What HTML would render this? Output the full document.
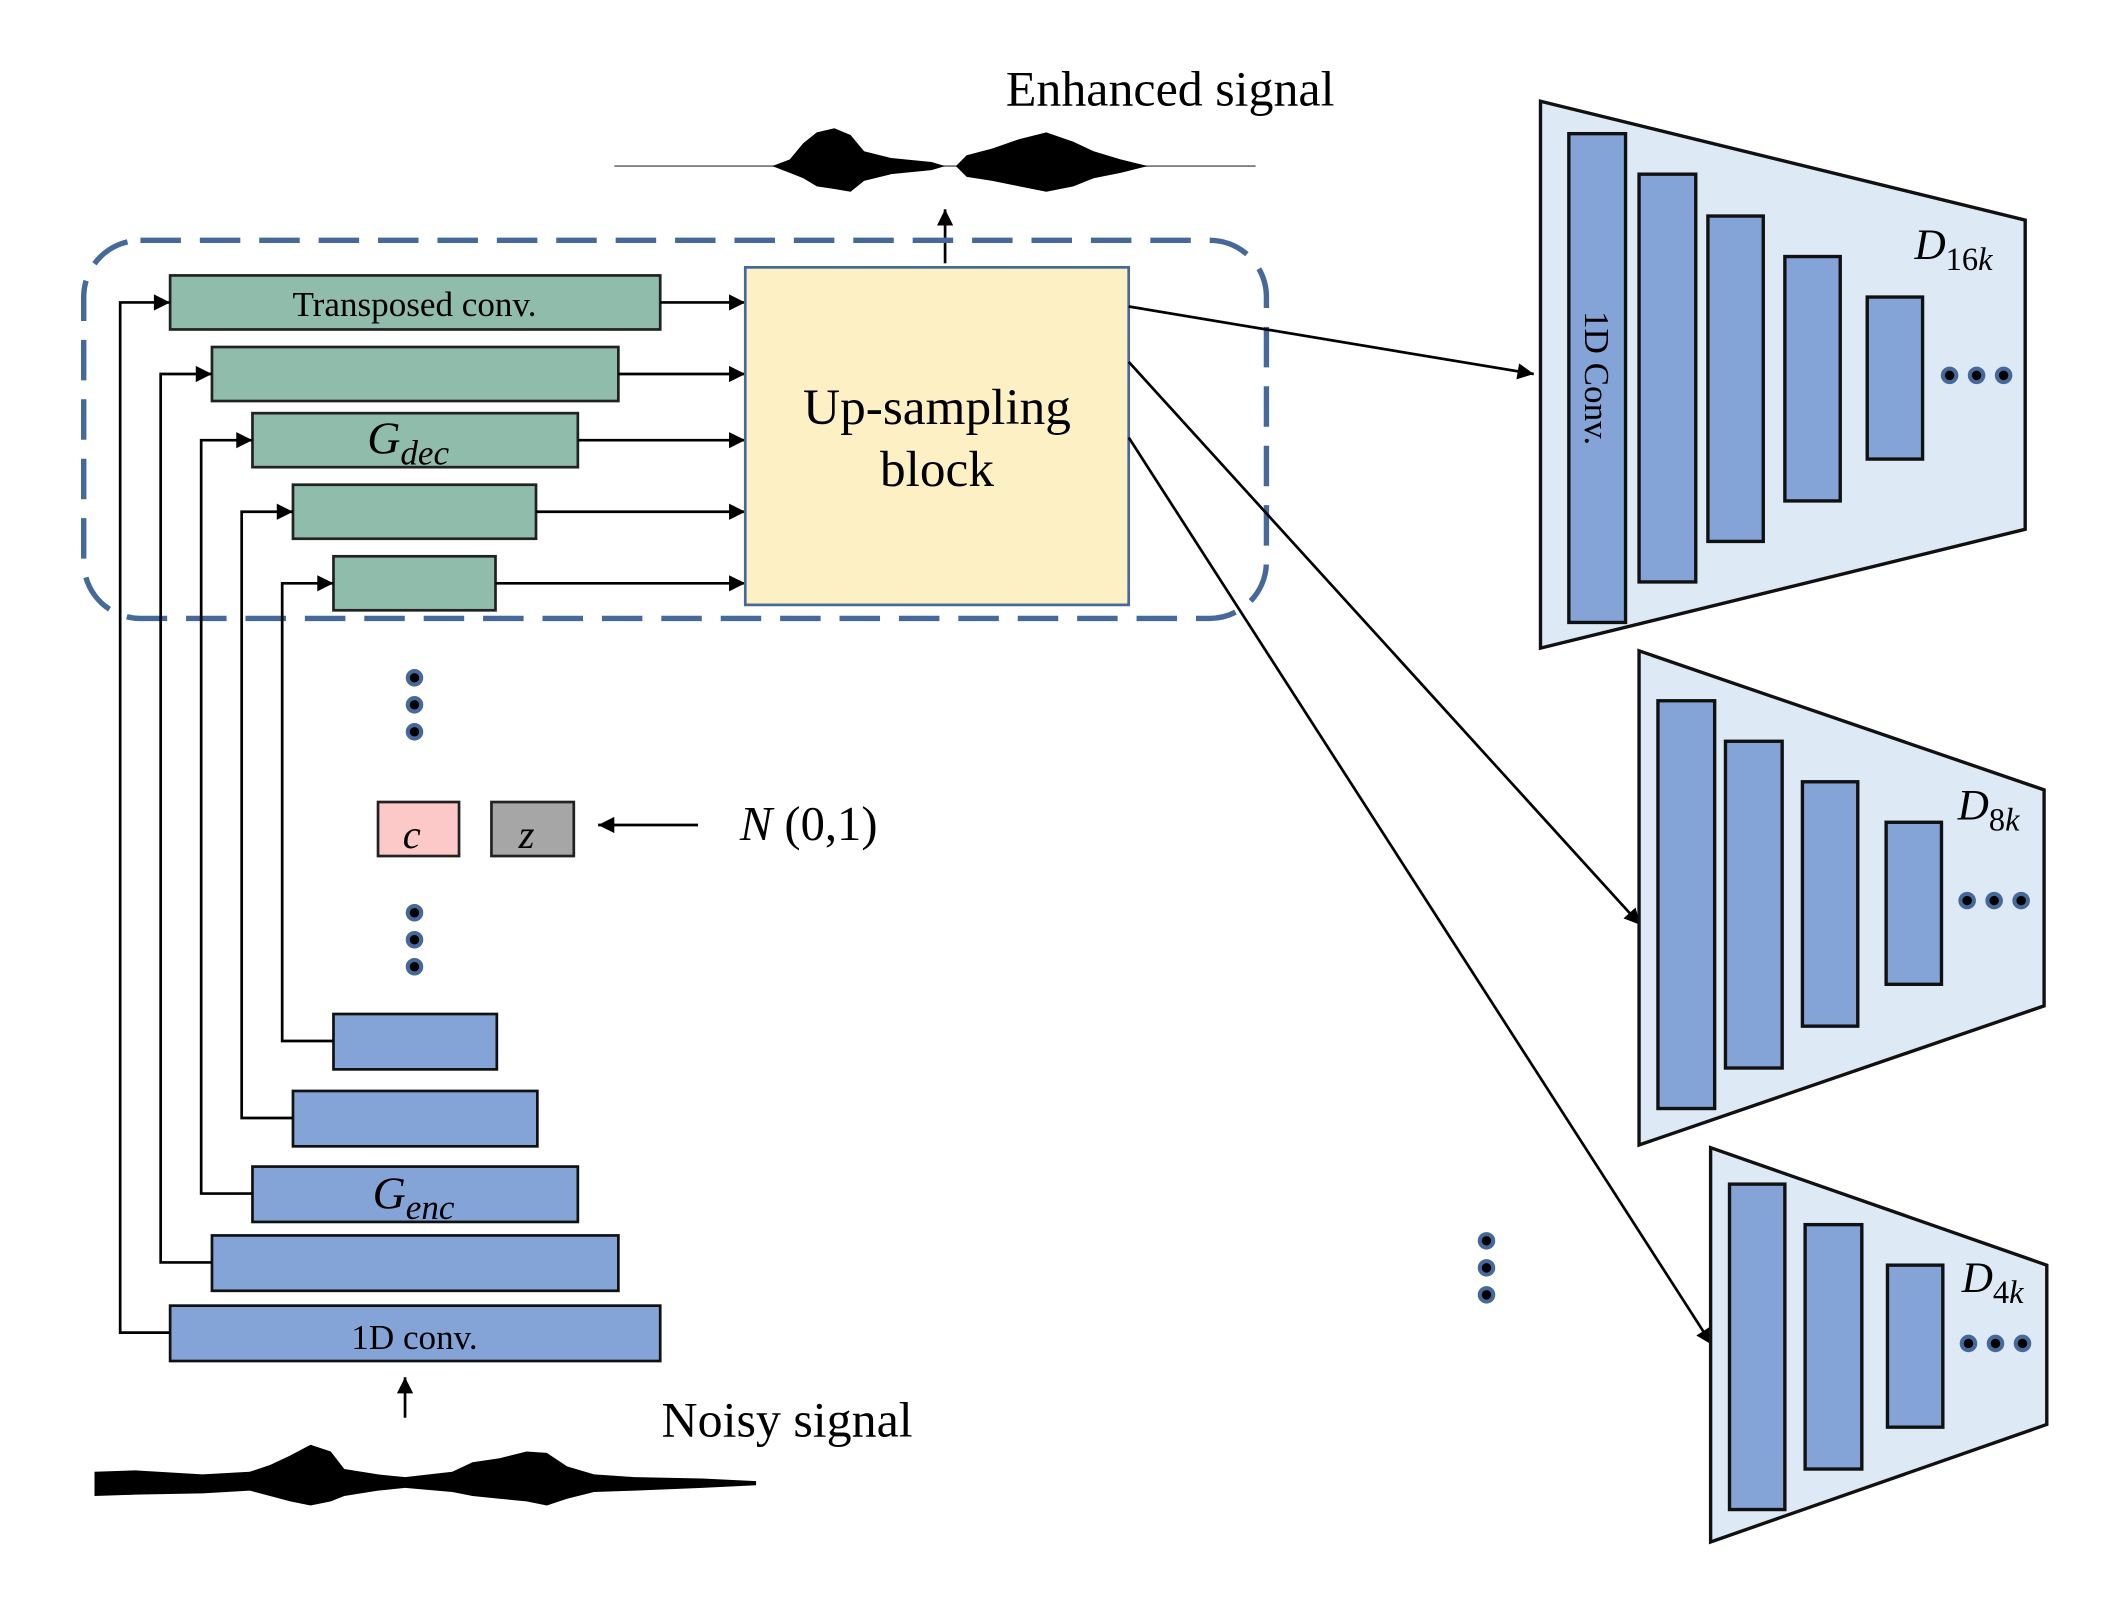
<!DOCTYPE html>
<html><head><meta charset="utf-8"><style>html,body{margin:0;padding:0;background:#fff}svg{display:block}</style></head><body>
<svg width="2117" height="1600" viewBox="0 0 1568 1185" preserveAspectRatio="none" xmlns="http://www.w3.org/2000/svg" font-family="'Liberation Serif', serif">
<defs>
<marker id="b" viewBox="0 0 10 10" refX="10" refY="5" markerWidth="14" markerHeight="12" orient="auto" markerUnits="userSpaceOnUse"><path d="M0,0 L10,5 L0,10 z" fill="#000"/></marker>
</defs>
<text x="745" y="78" font-size="37">Enhanced signal</text>
<line x1="455" y1="123" x2="930" y2="123" stroke="#555" stroke-width="1"/>
<path d="M572,123 L585,118 L595,106 L605,98 L618,95 L630,100 L640,112 L660,117 L690,120 L700,123 L690,126 L660,129 L640,134 L630,142 L618,140 L605,138 L595,132 L585,128 Z M708,123 L716,115 L735,110 L755,103 L775,98 L795,105 L810,112 L830,118 L850,123 L830,128 L810,132 L795,138 L775,142 L755,138 L735,134 L716,131 Z" fill="#000"/>
<line x1="700" y1="195" x2="700" y2="155" stroke="#000" stroke-width="2" marker-end="url(#b)"/>
<rect x="62" y="178" width="876" height="280" rx="42" fill="none" stroke="#44699a" stroke-width="4" stroke-dasharray="30,14"/>
<g fill="#8fbcab" stroke="#222" stroke-width="2">
<rect x="126" y="204" width="363" height="40"/>
<rect x="157" y="257" width="301" height="40"/>
<rect x="187" y="306" width="241" height="40"/>
<rect x="217" y="359" width="180" height="40"/>
<rect x="247" y="412" width="120" height="40"/>
</g>
<text x="307" y="234" font-size="26" text-anchor="middle">Transposed conv.</text>
<text x="272" y="336" font-size="34" font-style="italic">G<tspan font-size="26" dy="8">dec</tspan></text>
<g stroke="#000" stroke-width="2" marker-end="url(#b)">
<line x1="489" y1="224" x2="552" y2="224"/>
<line x1="458" y1="277" x2="552" y2="277"/>
<line x1="428" y1="326" x2="552" y2="326"/>
<line x1="397" y1="379" x2="552" y2="379"/>
<line x1="367" y1="432" x2="552" y2="432"/>
</g>
<rect x="552" y="198" width="284" height="250" fill="#fdf0c4" stroke="#44699a" stroke-width="2"/>
<text x="694" y="314" font-size="38" text-anchor="middle">Up-sampling</text>
<text x="694" y="360" font-size="38" text-anchor="middle">block</text>
<g fill="#84a4d8" stroke="#111" stroke-width="2">
<rect x="247" y="751" width="121" height="41"/>
<rect x="217" y="808" width="181" height="41"/>
<rect x="187" y="864" width="241" height="41"/>
<rect x="157" y="915" width="301" height="41"/>
<rect x="126" y="967" width="363" height="41"/>
</g>
<text x="307" y="999" font-size="26" text-anchor="middle">1D conv.</text>
<text x="276" y="895" font-size="34" font-style="italic">G<tspan font-size="26" dy="8">enc</tspan></text>
<g fill="none" stroke="#000" stroke-width="2" marker-end="url(#b)">
<polyline points="126,987 89,987 89,224 126,224"/>
<polyline points="157,935 119,935 119,277 157,277"/>
<polyline points="187,884 149,884 149,326 187,326"/>
<polyline points="217,828 179,828 179,379 217,379"/>
<polyline points="247,771 209,771 209,432 247,432"/>
</g>
<rect x="280" y="594" width="60" height="40" fill="#fcc8c8" stroke="#222" stroke-width="2"/>
<rect x="364" y="594" width="61" height="40" fill="#a6a6a6" stroke="#222" stroke-width="2"/>
<text x="305" y="628" font-size="30" font-style="italic" text-anchor="middle">c</text>
<text x="390" y="628" font-size="30" font-style="italic" text-anchor="middle">z</text>
<line x1="517" y1="611" x2="443" y2="611" stroke="#000" stroke-width="2" marker-end="url(#b)"/>
<text x="548" y="622" font-size="36"><tspan font-style="italic">N</tspan> (0,1)</text>
<line x1="300" y1="1050" x2="300" y2="1020" stroke="#000" stroke-width="2" marker-end="url(#b)"/>
<text x="490" y="1064" font-size="37">Noisy signal</text>
<path d="M70,1090 L100,1089 L150,1092 L185,1090 L200,1085 L215,1078 L230,1070 L245,1075 L255,1088 L280,1092 L300,1094 L335,1090 L350,1083 L370,1080 L390,1075 L405,1076 L420,1086 L440,1092 L470,1094 L520,1095 L560,1097 L560,1100 L520,1102 L470,1104 L440,1105 L420,1110 L405,1115 L390,1112 L370,1110 L350,1108 L335,1105 L300,1102 L280,1104 L255,1108 L245,1112 L230,1115 L215,1112 L200,1108 L185,1104 L150,1106 L100,1107 L70,1108 Z" fill="#000"/>
<g stroke="#000" stroke-width="2" marker-end="url(#b)">
<line x1="836" y1="227" x2="1136" y2="277"/>
<line x1="836" y1="268" x2="1215" y2="685"/>
<line x1="836" y1="324" x2="1268" y2="996"/>
</g>
<polygon points="1141,75 1500,163 1500,392 1141,480" fill="#dde9f5" stroke="#111" stroke-width="2.5"/>
<g fill="#84a4d8" stroke="#111" stroke-width="2.5">
<rect x="1162" y="99" width="42" height="362"/>
<rect x="1214" y="129" width="42" height="302"/>
<rect x="1265" y="160" width="41" height="241"/>
<rect x="1322" y="190" width="41" height="181"/>
<rect x="1383" y="220" width="41" height="120"/>
</g>
<text x="1174" y="280" font-size="26" text-anchor="middle" transform="rotate(90 1174 280)">1D Conv.</text>
<text x="1418" y="192" font-size="32" font-style="italic">D<tspan font-size="24" dy="8" font-style="normal">16</tspan><tspan font-size="24">k</tspan></text>
<polygon points="1214,482 1514,585 1514,745 1214,848" fill="#dde9f5" stroke="#111" stroke-width="2.5"/>
<g fill="#84a4d8" stroke="#111" stroke-width="2.5">
<rect x="1228" y="519" width="42" height="302"/>
<rect x="1278" y="549" width="42" height="242"/>
<rect x="1335" y="579" width="41" height="181"/>
<rect x="1397" y="609" width="41" height="120"/>
</g>
<text x="1450" y="607" font-size="32" font-style="italic">D<tspan font-size="24" dy="8" font-style="normal">8</tspan><tspan font-size="24">k</tspan></text>
<polygon points="1267,850 1516,937 1516,1055 1267,1142" fill="#dde9f5" stroke="#111" stroke-width="2.5"/>
<g fill="#84a4d8" stroke="#111" stroke-width="2.5">
<rect x="1281" y="877" width="41" height="241"/>
<rect x="1337" y="907" width="42" height="181"/>
<rect x="1398" y="937" width="41" height="120"/>
</g>
<text x="1453" y="957" font-size="32" font-style="italic">D<tspan font-size="24" dy="8" font-style="normal">4</tspan><tspan font-size="24">k</tspan></text>
<g fill="#000" stroke="#44699a" stroke-width="3">
<circle cx="307" cy="502" r="5"/><circle cx="307" cy="522" r="5"/><circle cx="307" cy="542" r="5"/>
<circle cx="307" cy="676" r="5"/><circle cx="307" cy="696" r="5"/><circle cx="307" cy="716" r="5"/>
<circle cx="1101" cy="919" r="5"/><circle cx="1101" cy="939" r="5"/><circle cx="1101" cy="959" r="5"/>
<circle cx="1444" cy="278" r="5"/><circle cx="1464" cy="278" r="5"/><circle cx="1484" cy="278" r="5"/>
<circle cx="1457" cy="667" r="5"/><circle cx="1477" cy="667" r="5"/><circle cx="1497" cy="667" r="5"/>
<circle cx="1458" cy="995" r="5"/><circle cx="1478" cy="995" r="5"/><circle cx="1498" cy="995" r="5"/>
</g>
</svg>
</body></html>
